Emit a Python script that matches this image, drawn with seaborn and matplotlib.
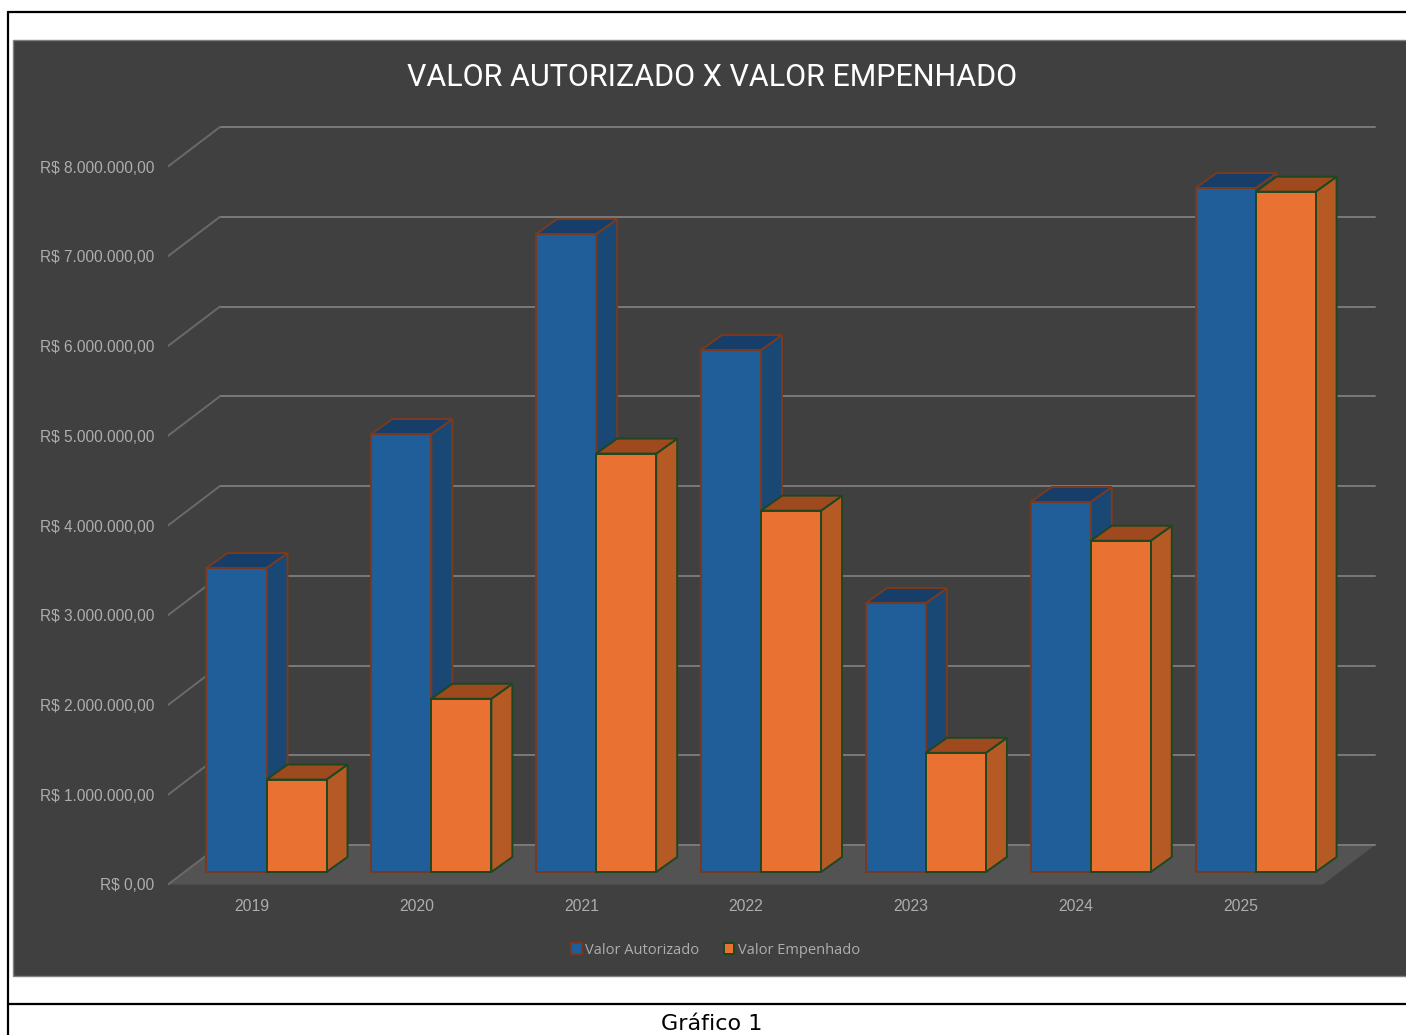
import matplotlib
matplotlib.use('Agg')
import matplotlib.pyplot as plt
from matplotlib.lines import Line2D
from matplotlib.patches import Patch, Polygon, Rectangle
import numpy as np
import pandas as pd
import seaborn as sns

anos = ['2019', '2020', '2021', '2022', '2023', '2024', '2025']
valor_autorizado = [3387000, 4880000, 7109000, 5816000, 2997000, 4123000, 7621000]
valor_empenhado = [1030000, 1930000, 4662000, 4026000, 1328000, 3691000, 7580000]
ticks_y = [0, 1000000, 2000000, 3000000, 4000000, 5000000, 6000000, 7000000, 8000000]
ticks_y_labels = ['R$ 0,00', 'R$ 1.000.000,00', 'R$ 2.000.000,00', 'R$ 3.000.000,00', 'R$ 4.000.000,00',
                  'R$ 5.000.000,00', 'R$ 6.000.000,00', 'R$ 7.000.000,00', 'R$ 8.000.000,00']
series = ['Valor Autorizado', 'Valor Empenhado']

df = pd.DataFrame({
    'ano': anos * 2,
    'valor': valor_autorizado + valor_empenhado,
    'serie': [series[0]] * 7 + [series[1]] * 7,
})

W, H = 1406, 1035
front_cor = ['#1F5E99', '#E97132']
lado_cor = ['#1A4875', '#B55A25']
topo_cor = ['#163E69', '#9E4A1E']
borda_cor = ['#7A3A1E', '#1E4620']
texto_cor = '#ADADAD'
grid_cor = '#7A7A7A'

# escala em pixels da figura
px_cat = 164.85
px_val = 89.75 / 1e6
x_zero = 266.5


def fx(x):
    return x / W


def fy(y):
    return 1 - y / H


sns.set_style('white')
fig = plt.figure(figsize=(W / 100, H / 100), dpi=100, facecolor='white')

# painel escuro e molduras
fig.add_artist(Rectangle((fx(13), fy(976)), fx(1500), fy(40) - fy(976), transform=fig.transFigure,
                         facecolor='#404040', edgecolor='#808080', linewidth=1, zorder=-2))
for xs, ys in [((8, 8), (12, 1035)), ((8, 1406), (12, 12)), ((8, 1406), (1004, 1004))]:
    fig.add_artist(Line2D([fx(v) for v in xs], [fy(v) for v in ys], color='black', linewidth=1.6, zorder=-1))

ax = fig.add_axes([fx(168), fy(887), fx(1406 - 168), fy(100) - fy(887)])
ax.patch.set_alpha(0)

sns.barplot(data=df, x='ano', y='valor', hue='serie', hue_order=series, order=anos,
            palette=front_cor, saturation=1, width=0.728, gap=0, legend=False, ax=ax)

ax.set_xlim((168 - x_zero) / px_cat, (1406 - x_zero) / px_cat)
ax.set_ylim(-15 / px_val, (872 - 100) / px_val)

# profundidade em unidades dos dados
bar_dx, bar_dy = 21 / px_cat, 15 / px_val
piso_dx, piso_dy = 52 / px_cat, 39.5 / px_val
piso_y = -12.5 / px_val
piso_x0 = (168 - x_zero) / px_cat
piso_x1 = (1323 - x_zero) / px_cat

ax.add_patch(Polygon([(piso_x0, piso_y), (piso_x1, piso_y), (piso_x1 + piso_dx, piso_y + piso_dy),
                      (piso_x0 + piso_dx, piso_y + piso_dy)], facecolor='#535353', edgecolor='none', zorder=0.5))
for t in ticks_y:
    y0 = t + piso_y
    y1 = y0 + piso_dy
    ax.plot([piso_x0 + piso_dx, piso_x1 + piso_dx], [y1, y1], color=grid_cor, lw=1.4, zorder=1)
    ax.plot([piso_x0, piso_x0 + piso_dx], [y0, y1], color='#6A6A6A', lw=1.4, zorder=1)

# faces 3D das barras
for j, cont in enumerate(ax.containers):
    for i, bar in enumerate(cont):
        z = 3 + 2 * i + j
        x0 = bar.get_x()
        x1 = x0 + bar.get_width()
        h = bar.get_height()
        bar.set_edgecolor(borda_cor[j])
        bar.set_linewidth(1.4)
        bar.set_zorder(z + 0.5)
        ax.add_patch(Polygon([(x1, 0), (x1 + bar_dx, bar_dy), (x1 + bar_dx, h + bar_dy), (x1, h)],
                             facecolor=lado_cor[j], edgecolor=borda_cor[j], lw=1.4, zorder=z))
        ax.add_patch(Polygon([(x0, h), (x0 + bar_dx, h + bar_dy), (x1 + bar_dx, h + bar_dy), (x1, h)],
                             facecolor=topo_cor[j], edgecolor=borda_cor[j], lw=1.4, zorder=z))

ax.set_yticks([t + piso_y for t in ticks_y], ticks_y_labels)
ax.set_xticks([i - 15 / px_cat for i in range(len(anos))], anos)
ax.tick_params(axis='y', length=0, pad=10, labelsize=11.2, labelcolor=texto_cor)
ax.tick_params(axis='x', length=0, pad=8.9, labelsize=11.3, labelcolor=texto_cor)
for lab in ax.get_xticklabels() + ax.get_yticklabels():
    lab.set_fontfamily('Liberation Sans')
ax.set_xlabel('')
ax.set_ylabel('')
ax.grid(False)
sns.despine(ax=ax, left=True, bottom=True)

fig.text(fx(712), fy(77.5), 'VALOR AUTORIZADO X VALOR EMPENHADO', color='white', fontsize=22,
         family='Roboto', ha='center', va='center')
fig.text(fx(711.5), fy(1023.5), 'Gráfico 1', color='black', fontsize=16, family='DejaVu Sans', ha='center', va='center')

handles = [Patch(facecolor=front_cor[j], edgecolor=borda_cor[j], linewidth=1.4) for j in range(2)]
ax.legend(handles, series, loc='center', bbox_to_anchor=(fx(715.5), fy(950)), bbox_transform=fig.transFigure,
          ncol=2, frameon=False, handlelength=0.72, handleheight=0.72, handletextpad=0.25, columnspacing=1.65,
          prop={'family': 'Open Sans', 'size': 10.5}, labelcolor=texto_cor)

fig.savefig('out.png', dpi=100)
